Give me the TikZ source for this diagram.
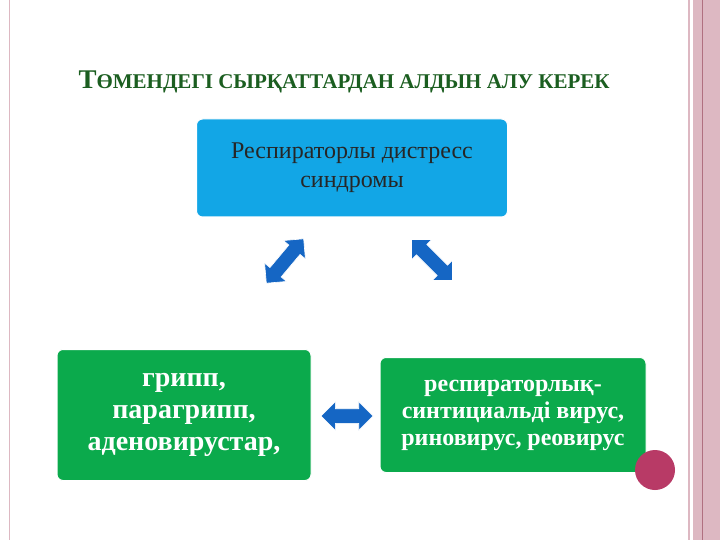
\documentclass[tikz,border=0pt]{standalone}
\usepackage{fontspec}
\setmainfont{Liberation Serif}
\usetikzlibrary{shapes.arrows}
\definecolor{cyanbox}{HTML}{12A6E6}
\definecolor{greenbox}{HTML}{0BAA4C}
\definecolor{arr}{HTML}{1566C4}
\definecolor{ttl}{HTML}{1B5E20}
\definecolor{pinkband}{HTML}{DDB8C2}
\definecolor{pinkline}{HTML}{B07080}
\definecolor{dot}{HTML}{B83A66}
\tikzset{
 box/.style={rounded corners=6pt, draw=white, line width=1pt, align=center, inner sep=0pt},
 darr/.style={double arrow, fill=arr, draw=white, line width=0.6pt, double arrow head extend=7pt, double arrow tip angle=90, minimum height=#1, inner xsep=0pt, inner ysep=7pt},
}
\begin{document}
\begin{tikzpicture}[x=1pt,y=-1pt]
\useasboundingbox (0,0) rectangle (720,540);
\fill[white] (0,0) rectangle (720,540);
% right band
\fill[pinkband] (688,0) rectangle (720,540);
\fill[white] (690,0) rectangle (693,540);
\draw[pinkline, line width=0.8pt] (702,0) -- (702,540);
\draw[pinkband, line width=0.8pt] (9,0) -- (9,540);
% title
\node[text=ttl, font=\bfseries, anchor=west] (title) at (75,82) {{\fontsize{27}{30}\selectfont Т}{\fontsize{21}{24}\selectfont ӨМЕНДЕГІ СЫРҚАТТАРДАН АЛДЫН АЛУ КЕРЕК}};
% boxes
\node[box, fill=cyanbox, minimum width=311pt, minimum height=98pt, font=\fontsize{24}{29}\selectfont, text=black!85] (top) at (352,168) {Респираторлы дистресс\\синдромы};
\node[box, fill=greenbox, minimum width=254pt, minimum height=131pt, text=white, font=\bfseries\fontsize{28}{32}\selectfont] (left) at (184,415) {грипп,\\парагрипп,\\аденовирустар,};
\node[box, fill=greenbox, minimum width=266pt, minimum height=115pt, text=white, font=\bfseries\fontsize{24}{27}\selectfont] (right) at (513,415) {респираторлық-\\синтициальді вирус,\\риновирус, реовирус};
% arrows
\node[darr=58pt, rotate=50] (a1) at (285,261) {};
\node[darr=58pt, rotate=-45] (a2) at (432,260) {};
\node[darr=52pt] (a3) at (347,416) {};
% dot
\fill[dot] (655,470) circle (20);
\node[circle, minimum size=40pt, inner sep=0pt] (d) at (655,470) {};
\end{tikzpicture}
\end{document}
